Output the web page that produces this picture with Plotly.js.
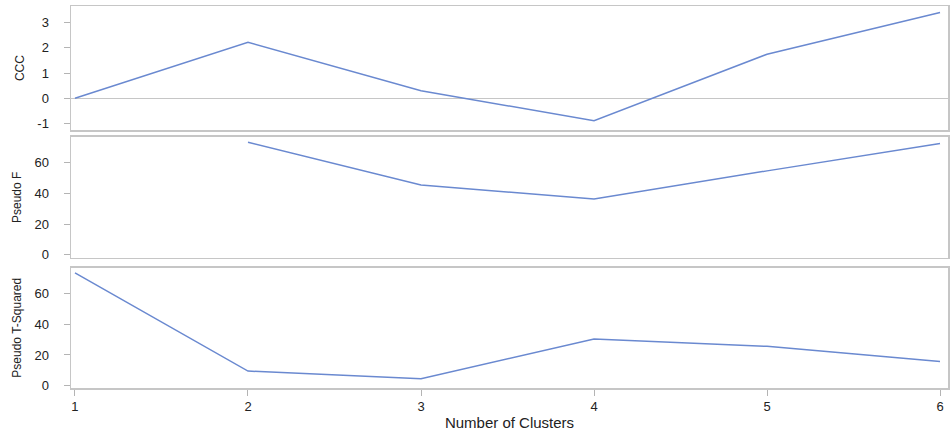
<!DOCTYPE html>
<html>
<head>
<meta charset="utf-8">
<script src="https://cdn.plot.ly/plotly-3.0.1.min.js"></script>
<style>
  html, body { margin: 0; padding: 0; background: #fff; }
  #chart { width: 951px; height: 432px; }
</style>
</head>
<body>
<div id="chart"></div>
<script>
// Cluster-count diagnostics
const clusters = [1, 2, 3, 4, 5, 6];
const ccc = [0, 2.22, 0.30, -0.89, 1.75, 3.40];
const pseudoF = [null, 73.0, 45.3, 36.2, 54.5, 72.3];
const pseudoT2 = [73.4, 9.5, 4.6, 30.4, 25.6, 15.8];

// CCC tick labels (plain hyphen for the negative value)
const cccTickVals = [-1, 0, 1, 2, 3];
const cccTickText = ['-1', '0', '1', '2', '3'];

const lineColor = '#6a89d0';
const frameColor = '#c6c6c6';
const textColor = '#222';
const font = 'Liberation Sans, Arial, sans-serif';

function series(y, xa, ya) {
  return {
    x: clusters, y: y, xaxis: xa, yaxis: ya,
    type: 'scatter', mode: 'lines',
    line: { color: lineColor, width: 1.5 },
    connectgaps: false, hoverinfo: 'x+y'
  };
}

const data = [
  series(ccc, 'x3', 'y3'),
  series(pseudoF, 'x2', 'y2'),
  series(pseudoT2, 'x', 'y')
];

function yAxis(domain, range, dtick, title, zero) {
  return {
    domain: domain, range: range, dtick: dtick, tick0: 0,
    showgrid: false,
    zeroline: zero, zerolinecolor: frameColor, zerolinewidth: 1.5,
    showline: true, mirror: true, linecolor: frameColor, linewidth: 1.5,
    ticks: 'outside', ticklen: 6, tickcolor: '#b4b4b4', tickwidth: 1,
    ticklabelstandoff: 12,
    tickfont: { family: font, size: 13, color: textColor },
    title: { text: title, font: { family: font, size: 12, color: textColor }, standoff: 10 }
  };
}

function xAxis(anchor, showLabels) {
  return {
    anchor: anchor, range: [0.977, 6.046], dtick: 1, tick0: 1,
    showgrid: false, zeroline: false,
    showline: true, mirror: true, linecolor: frameColor, linewidth: 1.5,
    ticks: showLabels ? 'outside' : '', ticklen: 6, tickcolor: '#b4b4b4', tickwidth: 1,
    showticklabels: showLabels,
    tickfont: { family: font, size: 13, color: textColor }
  };
}

const layout = {
  width: 951, height: 432,
  margin: { l: 71, r: 3, t: 6, b: 44 },
  paper_bgcolor: '#fff', plot_bgcolor: '#fff',
  showlegend: false,
  xaxis: Object.assign(xAxis('y', true), {
    title: { text: 'Number of Clusters', font: { family: font, size: 15, color: textColor }, standoff: 4 }
  }),
  xaxis2: Object.assign(xAxis('y2', false), { matches: 'x' }),
  xaxis3: Object.assign(xAxis('y3', false), { matches: 'x' }),
  yaxis: yAxis([0, 0.3154], [-1.5, 76.9], 20, 'Pseudo T-Squared', false),
  yaxis2: yAxis([0.3406, 0.6576], [-1.95, 76.6], 20, 'Pseudo F', false),
  yaxis3: Object.assign(yAxis([0.6751, 1], [-1.26, 3.66], 1, 'CCC', true), {
    tickmode: 'array', tickvals: cccTickVals, ticktext: cccTickText
  })
};

Plotly.newPlot('chart', data, layout, { displayModeBar: false, staticPlot: true });
</script>
</body>
</html>
